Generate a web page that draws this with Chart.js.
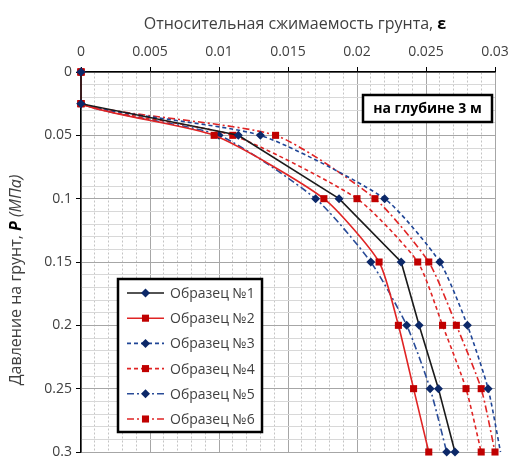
<!DOCTYPE html>
<html>
<head>
<meta charset="utf-8">
<script src="https://cdn.jsdelivr.net/npm/chart.js@4/dist/chart.umd.min.js"></script>
<style>
  html, body { margin: 0; padding: 0; background: #fff; }
</style>
</head>
<body>
<canvas id="grafico" width="510" height="457"></canvas>
<script>
// Давление на грунт, МПа (ось Y)
const davlenie = [0, 0.025, 0.05, 0.1, 0.15, 0.2, 0.25, 0.3];

// Относительная сжимаемость по образцам
const obrazec1 = [0, 0, 0.0114, 0.0187, 0.0232, 0.0245, 0.0259, 0.0271];
const obrazec2 = [0, 0, 0.00965, 0.0176, 0.0216, 0.0230, 0.0241, 0.0252];
const obrazec3 = [0, 0, 0.0130, 0.0220, 0.0260, 0.0280, 0.0295, 0.0304];
const obrazec4 = [0, 0, 0.0110, 0.0200, 0.0244, 0.0262, 0.0279, 0.0290];
const obrazec5 = [0, 0, 0.0100, 0.0170, 0.0210, 0.0236, 0.0253, 0.0265];
const obrazec6 = [0, 0, 0.0141, 0.0213, 0.0252, 0.0272, 0.0290, 0.0300];

const nazvaniya = ["Образец №1", "Образец №2", "Образец №3", "Образец №4", "Образец №5", "Образец №6"];

const xMetki = ["0", "0.005", "0.01", "0.015", "0.02", "0.025", "0.03"];
const yMetki = ["0", "0.05", "0.1", "0.15", "0.2", "0.25", "0.3"];

const ctx = document.getElementById("grafico").getContext("2d");
const shrift = "'Open Sans', 'Noto Sans', sans-serif";

// стили линий
const cvetLinii = ["#1a1a1a", "#e02424", "#1f4596", "#e02424", "#2a4c98", "#e02424"];
const cvetTochki = ["#0c2868", "#c00000", "#0c2868", "#c00000", "#0c2868", "#c00000"];
const shtrih = [[], [], [4, 3], [4, 3], [7, 3, 2, 3], [7, 3, 2, 3]];
const forma = ["rectRot", "rect", "rectRot", "rect", "rectRot", "rect"];
const sglazh = [0, 0.2, 0.2, 0.2, 0.2, 0.2]; // первый образец - без сглаживания

const vseObrazcy = [obrazec1, obrazec2, obrazec3, obrazec4, obrazec5, obrazec6];

const naborDannyh = vseObrazcy.map((ser, i) => ({
    label: nazvaniya[i],
    data: ser.map((e, j) => ({ x: e, y: davlenie[j] })),
    showLine: true,
    borderColor: cvetLinii[i],
    borderWidth: 1.6,
    borderDash: shtrih[i],
    pointStyle: forma[i],
    pointRadius: forma[i] === "rect" ? 5 : 4.5,
    pointBackgroundColor: cvetTochki[i],
    pointBorderColor: cvetTochki[i],
    pointBorderWidth: 0,
    clip: false,
    tension: sglazh[i]
}));

function risovatMarker(c, tip, x, y, r, cvet) {
    c.fillStyle = cvet;
    c.beginPath();
    if (tip === "rect") {
        const s = r * Math.SQRT1_2;
        c.rect(x - s, y - s, 2 * s, 2 * s);
    } else {
        c.moveTo(x, y - r); c.lineTo(x + r, y); c.lineTo(x, y + r); c.lineTo(x - r, y);
        c.closePath();
    }
    c.fill();
}

const podpisi = {
    id: "podpisi",
    afterDraw(chart) {
        const c = chart.ctx;
        c.save();

        // заголовок оси X
        const t1 = "Относительная сжимаемость грунта, ";
        c.fillStyle = "#404040";
        c.textBaseline = "alphabetic";
        c.font = "16px " + shrift;
        const w1 = c.measureText(t1).width;
        c.font = "bold 16px " + shrift;
        const w2 = c.measureText("ε").width;
        let x0 = 295 - (w1 + w2) / 2;
        c.font = "16px " + shrift;
        c.fillText(t1, x0, 29);
        c.font = "bold 16px " + shrift;
        c.fillStyle = "#000";
        c.fillText("ε", x0 + w1, 29);

        // заголовок оси Y
        c.save();
        c.translate(21, 280);
        c.rotate(-Math.PI / 2);
        const chasti = [
            ["Давление на грунт, ", "16px " + shrift],
            ["P", "italic bold 16px " + shrift],
            [" (МПа)", "italic 16px " + shrift]
        ];
        let obshaya = 0;
        chasti.forEach(p => { c.font = p[1]; obshaya += c.measureText(p[0]).width; });
        let px = -obshaya / 2;
        chasti.forEach(p => {
            c.font = p[1];
            c.fillStyle = p[0] === "P" ? "#000" : "#404040";
            c.fillText(p[0], px, 0);
            px += c.measureText(p[0]).width;
        });
        c.restore();

        // надпись "на глубине 3 м"
        c.fillStyle = "#fff";
        c.fillRect(363, 95, 129, 27);
        c.lineWidth = 2.5;
        c.strokeStyle = "#000";
        c.strokeRect(363, 95, 129, 27);
        c.fillStyle = "#000";
        c.font = "bold 14px " + shrift;
        c.textAlign = "center";
        c.textBaseline = "middle";
        c.fillText("на глубине 3 м", 427.5, 109);

        // легенда
        c.textAlign = "left";
        c.fillStyle = "#fff";
        c.fillRect(118, 279, 144, 153);
        c.strokeRect(118, 279, 144, 153);
        chart.data.datasets.forEach((ds, i) => {
            const y = 293 + i * 25.2;
            c.beginPath();
            c.setLineDash(ds.borderDash);
            c.strokeStyle = ds.borderColor;
            c.lineWidth = ds.borderWidth;
            c.moveTo(127, y);
            c.lineTo(164, y);
            c.stroke();
            c.setLineDash([]);
            risovatMarker(c, ds.pointStyle, 145.5, y, ds.pointRadius, ds.pointBackgroundColor);
            c.fillStyle = "#404040";
            c.font = "14px " + shrift;
            c.textBaseline = "middle";
            c.fillText(ds.label, 170, y + 1);
        });
        c.restore();
    }
};

function bezOtstupov(scale) {
    scale.paddingTop = 0;
    scale.paddingBottom = 0;
    scale.paddingLeft = 0;
    scale.paddingRight = 0;
}

const grafico = new Chart(ctx, {
    type: "scatter",
    data: { datasets: naborDannyh },
    plugins: [podpisi],
    options: {
        responsive: false,
        animation: false,
        layout: { padding: { left: 0, top: 0, right: 15, bottom: 4 } },
        plugins: {
            legend: { display: false },
            tooltip: { enabled: false }
        },
        scales: {
            x: {
                type: "linear",
                position: "top",
                min: 0,
                max: 0.03,
                afterBuildTicks: scale => {
                    const t = [];
                    for (let i = 0; i <= 30; i++) t.push({ value: i / 1000 });
                    scale.ticks = t;
                },
                afterFit: scale => { scale.height = 72; bezOtstupov(scale); },
                ticks: {
                    autoSkip: false,
                    maxRotation: 0,
                    padding: 7,
                    color: "#404040",
                    font: { family: shrift, size: 14 },
                    callback: (v, i) => (i % 5 === 0 ? xMetki[i / 5] : "")
                },
                grid: {
                    tickLength: 5,
                    color: c => (c.index % 5 === 0 ? "#a6a6a6" : "#c4c4c4"),
                    tickColor: c => (c.index % 5 === 0 ? "#000" : "rgba(0,0,0,0)")
                },
                border: {
                    color: "#000",
                    width: 1.5,
                    dash: c => (c.tick && c.index % 5 !== 0 ? [2, 2] : [])
                }
            },
            y: {
                type: "linear",
                reverse: true,
                min: 0,
                max: 0.3,
                afterBuildTicks: scale => {
                    const t = [];
                    for (let i = 0; i <= 30; i++) t.push({ value: i / 100 });
                    scale.ticks = t;
                },
                afterFit: scale => { scale.width = 81; bezOtstupov(scale); },
                ticks: {
                    autoSkip: false,
                    padding: 4,
                    color: "#404040",
                    font: { family: shrift, size: 14 },
                    callback: (v, i) => (i % 5 === 0 ? yMetki[i / 5] : "")
                },
                grid: {
                    tickLength: 5,
                    color: c => (c.index % 5 === 0 ? "#a6a6a6" : "#d8d8d8"),
                    tickColor: c => (c.index % 5 === 0 ? "#000" : "rgba(0,0,0,0)")
                },
                border: {
                    color: "#000",
                    width: 1.5
                }
            }
        }
    }
});
</script>
</body>
</html>
